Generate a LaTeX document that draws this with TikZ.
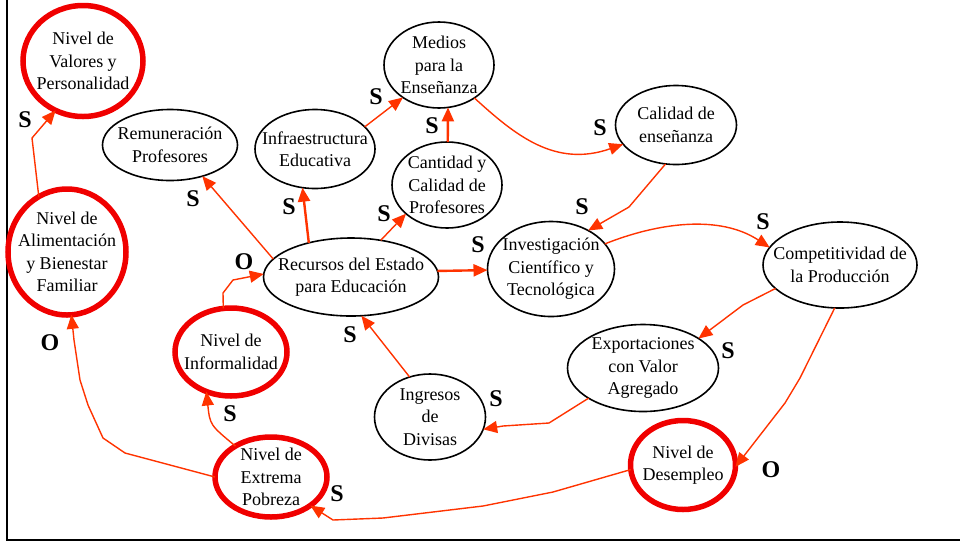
\documentclass[tikz,border=0pt]{standalone}
\usepackage{fontspec}
\setmainfont{Liberation Serif}
\usetikzlibrary{shapes.geometric,arrows.meta}
\definecolor{lazo}{RGB}{255,51,0}
\definecolor{nudo}{RGB}{240,0,0}

\begin{document}
\begin{tikzpicture}[x=1pt,y=-1pt,
    var/.style={ellipse, draw, line width=1.6pt, inner sep=-30pt, outer sep=0pt,
      align=center, font=\fontsize{18}{22.5}\selectfont},
    clave/.style={var, draw=nudo, line width=5.5pt},
    lnk/.style={draw=lazo, line width=1.4pt, line join=round,
      -{Triangle[length=14pt,width=12pt]}},
    grueso/.style={lnk, line width=2.4pt},
    signo/.style={inner sep=0pt, font=\fontsize{24}{24}\selectfont\bfseries}]
  \useasboundingbox (0,0) rectangle (960,542);
  % marco
  \draw[line width=2.6pt] (7,0) -- (7,540) -- (960,540);

  % variables
  \node[clave, minimum width=120pt, minimum height=111pt] (valores) at (83,61)
    {Nivel de\\Valores y\\Personalidad};
  \node[clave, minimum width=118pt, minimum height=126pt] (alim) at (67,252)
    {Nivel de\\Alimentación\\y Bienestar\\Familiar};
  \node[var, minimum width=135pt, minimum height=71pt] (remun) at (170,145)
    {Remuneración\\Profesores};
  \node[var, minimum width=120pt, minimum height=79pt] (infra) at (315,149)
    {Infraestructura\\Educativa};
  \node[var, minimum width=110pt, minimum height=86pt] (medios) at (439,65)
    {Medios\\para la\\Enseñanza};
  \node[var, minimum width=110pt, minimum height=86pt] (cantidad) at (447,185)
    {Cantidad y\\Calidad de\\Profesores};
  \node[var, minimum width=121pt, minimum height=79pt] (calidad) at (676,125)
    {Calidad de\\enseñanza};
  \node[var, minimum width=175pt, minimum height=78pt] (recursos) at (351,277)
    {Recursos del Estado\\para Educación};
  \node[var, minimum width=127pt, minimum height=95pt] (invest) at (551,269)
    {Investigación\\Científico y\\Tecnológica};
  \node[var, minimum width=154pt, minimum height=86pt] (compet) at (840,265)
    {Competitividad de\\la Producción};
  \node[clave, minimum width=112pt, minimum height=88pt] (inform) at (231,352)
    {Nivel de\\Informalidad};
  \node[var, minimum width=111pt, minimum height=86pt] (ingresos) at (430,417)
    {Ingresos\\de\\Divisas};
  \node[var, minimum width=151pt, minimum height=87pt] (export) at (643,368)
    {Exportaciones\\con Valor\\Agregado};
  \node[clave, minimum width=112pt, minimum height=80pt] (extrema) at (271,477)
    {Nivel de\\Extrema\\Pobreza};
  \node[clave, minimum width=105pt, minimum height=89pt] (desempleo) at (683,465)
    {Nivel de\\Desempleo};

  % relaciones
  \draw[lnk] (alim.117) -- (32,138) -- (valores.241);
  \draw[lnk] (recursos.167) -- (remun.-44);
  \draw[grueso] (recursos.141) -- (infra.252);
  \draw[lnk] (infra.24) -- (medios.222);
  \draw[lnk] (recursos.51) -- (cantidad.215);
  \draw[grueso] (cantidad.89) -- (medios.-78);
  \draw[lnk] (medios.-43) .. controls (515,135) and (555,168) .. (calidad.200);
  \draw[lnk] (calidad.255) -- (629,207) -- (invest.46);
  \draw[grueso] (recursos.4) -- (invest.181);
  \draw[lnk] (invest.25) .. controls (660,222) and (720,215) .. (compet.166);
  \draw[lnk] (compet.200) -- (743,305) -- (export.28);
  \draw[lnk] (compet.263) -- (800,378) -- (785,403) -- (desempleo.-2);
  \draw[lnk] (export.209) -- (549,423) -- (503,426) -- (ingresos.-13);
  \draw[lnk] (ingresos.117) -- (recursos.285);
  \draw[lnk] (desempleo.185) -- (553,492) -- (483,506) -- (383,518)
    -- (333,520) -- (extrema.-36);
  \draw[lnk] (extrema.180) -- (125,453) -- (103,438) -- (88,405) -- (80,380)
    -- (74,340) -- (alim.274);
  \draw[lnk] (extrema.139) .. controls (210,425) .. (inform.238);
  \draw[lnk] (inform.100) -- (223,293) -- (233,280) -- (recursos.178);

  % signos
  \foreach \nm/\px/\py/\tx in {sA/25/120/S, sB/193/199/S, sC/289/207/S,
      sD/376/97/S, sE/432/126/S, sF/384/214/S, sG/478/245/S, sH/600/128/S,
      sI/582/207/S, sJ/763/222/S, sK/728/351/S, sL/496/399/S, oM/771/470/O,
      sN/350/335/S, sP/230/414/S, sQ/337/494/S, oR/50/343/O, oS/244/262/O}
    \node[signo] (\nm) at (\px,\py) {\tx};
\end{tikzpicture}
\end{document}
